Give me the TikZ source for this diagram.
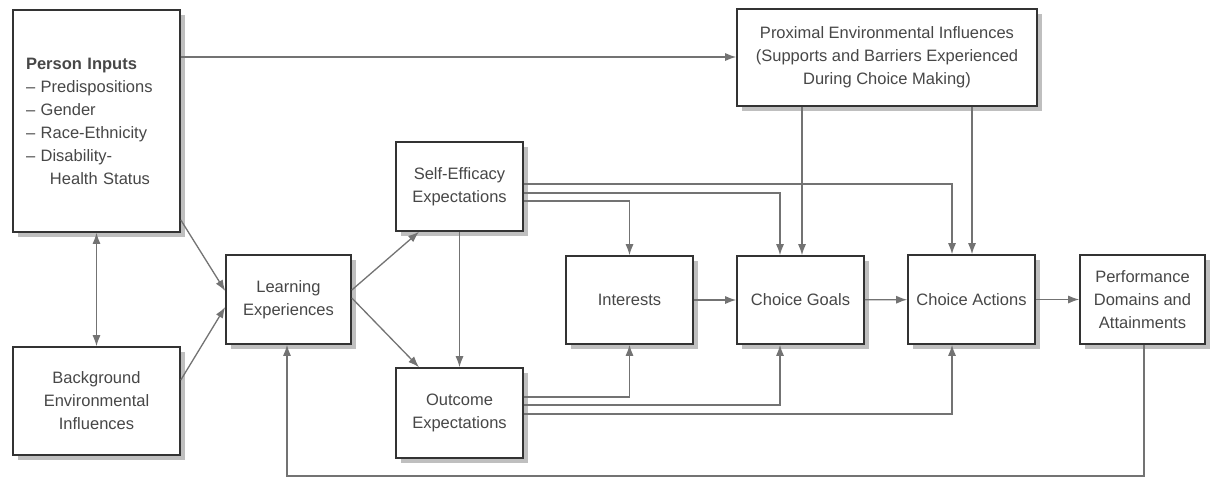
\documentclass[tikz,border=0pt]{standalone}
\usepackage{fontspec}
\setmainfont{Liberation Sans}
\usetikzlibrary{arrows.meta,shadows}

\begin{document}
\begin{tikzpicture}
[
    x=1pt, y=-1pt,
    every node/.style={font=\fontsize{16.5}{23}\selectfont},
    box/.style={draw=black!80, line width=1.6pt, fill=white, text=black!72,
        align=center, inner sep=0pt,
        drop shadow={shadow xshift=5pt, shadow yshift=-5pt, fill=black!25, opacity=1}},
    tip/.style={Latex[length=11pt,width=8pt]},
    link/.style={draw=black!55, line width=1.3pt, -{Latex[length=11pt,width=8pt]}},
]
\fill[white] (0,0) rectangle (1214,480);
\useasboundingbox (0,0) rectangle (1214,480);

% boxes
\node[box, minimum width=167pt, minimum height=222pt, text width=141pt, align=left]
    (person) at (96.5,121)
    {\textbf{Person Inputs}\\ \textendash\ Predispositions\\ \textendash\ Gender\\
     \textendash\ Race-Ethnicity\\ \textendash\ Disability-\\ \hspace*{24pt}Health Status};
\node[box, minimum width=167pt, minimum height=108pt] (background) at (96.5,401)
    {Background\\ Environmental\\ Influences};
\node[box, minimum width=125pt, minimum height=89pt] (learning) at (288.5,299.5)
    {Learning\\ Experiences};
\node[box, minimum width=127pt, minimum height=89pt] (selfeff) at (459.5,186.5)
    {Self-Efficacy\\ Expectations};
\node[box, minimum width=127pt, minimum height=90pt] (outcome) at (459.5,413)
    {Outcome\\ Expectations};
\node[box, minimum width=127pt, minimum height=88pt] (interests) at (629.5,300)
    {Interests};
\node[box, minimum width=127pt, minimum height=88pt] (goals) at (800.5,300)
    {Choice Goals};
\node[box, minimum width=127pt, minimum height=89pt] (actions) at (971.5,299.5)
    {Choice Actions};
\node[box, minimum width=125pt, minimum height=89pt] (perf) at (1142.5,299.5)
    {Performance\\ Domains and\\ Attainments};
\node[box, minimum width=300pt, minimum height=97pt] (proximal) at (887,57.5)
    {Proximal Environmental Influences\\ (Supports and Barriers Experienced\\ During Choice Making)};

% connectors
\draw[link] (person.east |- 0,57) -- (proximal.west |- 0,57);
\draw[link, {Latex[length=11pt,width=8pt]}-{Latex[length=11pt,width=8pt]}] (person.south) -- (background.north);
\draw[link] (person.east |- 0,220) -- (learning.west |- 0,291);
\draw[link] (background.east |- 0,380) -- (learning.west |- 0,307);
\draw[link] (learning.east |- 0,290) -- (selfeff.south -| 419,0);
\draw[link] (learning.east |- 0,298) -- (outcome.north -| 419,0);
\draw[link] (selfeff.south) -- (outcome.north);
\draw[link] (selfeff.east |- 0,201) -| (interests.north);
\draw[link] (selfeff.east |- 0,193) -| (goals.north -| 780,0);
\draw[link] (selfeff.east |- 0,184) -| (actions.north -| 952,0);
\draw[link] (proximal.south -| 802,0) -- (goals.north -| 802,0);
\draw[link] (proximal.south -| 972,0) -- (actions.north -| 972,0);
\draw[link] (outcome.east |- 0,397) -| (interests.south);
\draw[link] (outcome.east |- 0,405) -| (goals.south -| 780,0);
\draw[link] (outcome.east |- 0,414) -| (actions.south -| 952,0);
\draw[link] (interests) -- (goals);
\draw[link] (goals) -- (actions);
\draw[link] (actions) -- (perf);
\coordinate (loop) at (700,476);
\draw[link] (perf.south -| 1144,0) |- (loop) -| (learning.south -| 287,0);
\end{tikzpicture}
\end{document}
